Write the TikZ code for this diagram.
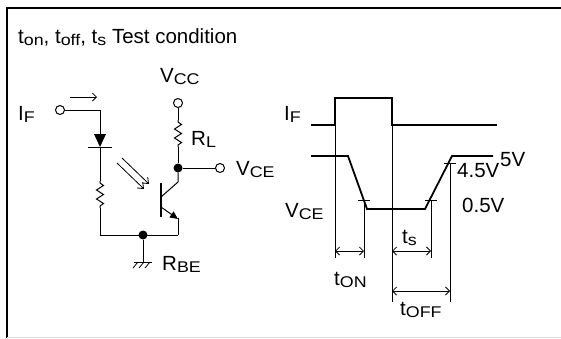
\documentclass[tikz,border=0pt]{standalone}
\usepackage{graphicx}
\usepackage{fontspec}
\setmainfont{Liberation Sans}
\usetikzlibrary{calc,arrows.meta,positioning}

\newcommand{\lo}[1]{\raisebox{-2.5pt}{\scalebox{1.15}[1]{\fontsize{15.5}{15.5}\selectfont #1}}}

\tikzset{
    wire/.style={line width=1pt},
    wave/.style={line width=1.8pt},
    guide/.style={line width=0.8pt},
    term/.style={circle,draw,line width=1pt,fill=white,minimum size=9pt,inner sep=0pt},
    jdot/.style={circle,fill,minimum size=9pt,inner sep=0pt},
    lbl/.style={anchor=base west,inner sep=0pt,font=\fontsize{20.5}{23}\selectfont},
    span/.style={{Straight Barb[length=4pt,width=8pt]}-{Straight Barb[length=4pt,width=8pt]},line width=0.8pt},
    resv/.pic={\draw[wire] (0,0) -- (0,2) -- (3.5,4.5) -- (-3.5,9) -- (3.5,13.5) -- (-3.5,18) -- (3.5,22.5) -- (0,25) -- (0,27);}
}

\begin{document}
\begin{tikzpicture}[x=1pt,y=-1pt]
    \useasboundingbox (0,0) rectangle (561,338);
    % Frame.
    \draw[line width=1.5pt] (7,338) |- (561,8);
    \draw[black!15] (7,337.5) -- (561,337.5);

    \node[lbl] (title) at (18,43) {t\lo{on}, t\lo{off}, t\lo{s} Test condition};

    % Input and LED.
    \node[term] (ifin) at (60,110) {};
    \node[lbl] (iflbl) at (18,120) {I\lo{F}};
    \coordinate (ifa) at (70,97);
    \coordinate (ifb) at (97,97);
    \draw[guide,-{Straight Barb[length=4pt,width=8pt]}] (ifa) -- (ifb);
    \coordinate (ledtop) at (100,134);
    \coordinate (ledbar) at (100,147);
    \draw[wire] (ifin) -| (ledtop);
    \fill (94,134) -- (106,134) -- (ledbar) -- cycle;
    \draw[wire] (88,147) -- (112,147);
    \draw[wire] (ledbar) -- (100,181);
    \pic at (100,181) {resv};
    \coordinate (bl) at (100,235);
    \coordinate (br) at (178,235);
    \node[jdot] (gnd) at (143,235) {};
    \draw[wire] (100,208) -- (bl) -- (br);

    % Photo transistor.
    \draw[line width=1.6pt] (161,183) -- (161,217);
    \node[jdot] (col) at (178,168) {};
    \draw[wire] (161,197) -- (178,182) -- (col);
    \draw[wire,-{Triangle[length=8pt,width=7pt]}] (161,207) -- (178,219);
    \draw[wire] (178,218) -- (br);
    \draw[guide,-{Straight Barb[length=5pt,width=8pt]}] (122,158) -- (149,184);
    \draw[guide,-{Straight Barb[length=5pt,width=8pt]}] (117,163) -- (144,189);

    % Supply and load.
    \node[term] (vcc) at (178,103) {};
    \node[lbl] (vcclbl) at (160,82) {V\lo{CC}};
    \draw[wire] (vcc) -- (178,120);
    \pic at (178,120) {resv};
    \draw[wire] (178,147) -- (col);
    \node[lbl] (rl) at (191,145) {R\lo{L}};
    \node[term] (vceout) at (220,168) {};
    \draw[wire] (col) -- (vceout);
    \node[lbl] (vcelbl) at (236,175) {V\lo{CE}};

    % Ground.
    \draw[wire] (gnd) -- (143,262);
    \draw[wire] (134,262) -- (152,262);
    \foreach \x in {138,144,150} \draw[guide] (\x,262) -- (\x-5,268);
    \node[lbl] (rbe) at (162,270) {R\lo{BE}};

    % Waveforms.
    \node[lbl] (ifw) at (284,120) {I\lo{F}};
    \draw[wave] (311,125) -- (335,125) -- (335,98) -- (392,98) -- (392,125) -- (497,125);
    \node[lbl] (vcew) at (285,217) {V\lo{CE}};
    \draw[wave] (311,156) -- (348,156) -- (367,209) -- (425,209) -- (452,156) -- (493,156);

    % Timing marks.
    \draw[guide] (335,125) -- (335,258);
    \draw[guide] (392,125) -- (392,302);
    \draw[guide] (364,200) -- (364,258);
    \draw[guide] (431,200) -- (431,258);
    \draw[guide] (450,163) -- (450,302);
    \foreach \x/\y in {364/200,431/200,450/163}
        \draw[guide] (\x-6,\y) -- (\x+6,\y);

    \draw[span] (335,251) -- (364,251);
    \node[lbl] (ton) at (334,285) {t\lo{ON}};
    \draw[span] (392,251) -- (431,251);
    \node[lbl] (ts) at (402,243) {t\lo{s}};
    \draw[span] (392,291) -- (450,291);
    \node[lbl] (toff) at (400,315) {t\lo{OFF}};

    \node[lbl] (v45) at (457,177) {4.5V};
    \node[lbl] (v5) at (500,166) {5V};
    \node[lbl] (v05) at (462,212) {0.5V};
\end{tikzpicture}
\end{document}
